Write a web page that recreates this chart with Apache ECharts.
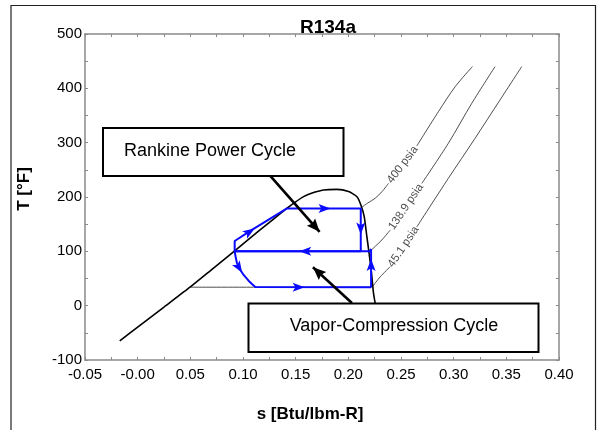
<!DOCTYPE html>
<html><head><meta charset="utf-8">
<script src="https://cdn.jsdelivr.net/npm/echarts@6/dist/echarts.min.js"></script>
<style>html,body{margin:0;padding:0;background:#fff}#c{width:597px;height:430px}</style>
</head><body><div id="c"></div>
<script>
// ---------- data ----------
const xTickLabels = ['-0.05','-0.00','0.05','0.10','0.15','0.20','0.25','0.30','0.35','0.40'];
const yTickLabels = ['-100','0','100','200','300','400','500'];

// saturation dome
const domeS = [-0.017, 0.000, 0.025, 0.050, 0.070, 0.0921, 0.115, 0.1418, 0.150, 0.1575, 0.165, 0.1765, 0.1892, 0.2002, 0.2082, 0.2120, 0.2151, 0.2176, 0.2195, 0.2217, 0.2239, 0.2255];
const domeT = [-65, -39.5, -2.5, 34.4, 66, 101, 137.5, 179.3, 191, 200.6, 207, 213, 214, 210, 200.6, 185, 164, 127, 99.4, 65.7, 22.8, 4.4];

// isobars (null marks the gap where the label sits)
const isobarNames = ['400 psia', '138.9 psia', '45.1 psia'];
const p400S = [0.2118, 0.2185, 0.2255, 0.2320, 0.2381, null, 0.2650, 0.2855, 0.3014, 0.3178];
const p400T = [180, 189, 197.7, 210, 225, null, 294, 357, 403, 440];
const p139S = [0.2205, 0.2260, 0.2319, 0.2397, null, 0.2698, 0.2950, 0.3172, 0.3393];
const p139T = [100, 110, 121, 139, null, 225, 299, 372.5, 440];
const p45S = [0.0500, 0.2216, 0.2260, 0.2302, 0.2397, null, 0.2650, 0.2950, 0.3203, 0.3440, 0.3646];
const p45T = [34, 34, 43, 53, 71.8, null, 145, 234.5, 308, 378.6, 440];

// Rankine power cycle (flow order)
const rankineS = [0.0921, 0.0921, 0.1069, 0.1418, 0.2118, 0.2118, 0.0921];
const rankineT = [100, 119, 137.5, 179, 179, 100, 100];

// vapor-compression cycle (flow order)
const vcS = [0.2216, 0.2216, 0.2201, 0.0921, 0.0930, 0.0943, 0.0958, 0.0975, 0.1006, 0.1053, 0.1085, 0.1117, 0.2216];
const vcT = [34, 104, 100, 100, 90, 78, 71, 65.7, 56.5, 46, 40, 34.5, 34];

// flow-direction arrows on the cycles
const flowArrowS = [0.1063, 0.1774, 0.2118, 0.1591, 0.0962, 0.1528, 0.2216];
const flowArrowT = [136, 179, 142, 100, 70, 34, 75];

// annotation pointers (start -> tip)
const pointerFromS = [0.1259, 0.2034];
const pointerFromT = [239, 5];
const pointerToS = [0.1727, 0.1664];
const pointerToT = [136, 70.7];

const boxTexts = ['Rankine Power Cycle', 'Vapor-Compression Cycle'];

// ---------- helpers ----------
const pairs = (xs, ys) => xs.map((x, i) => x === null ? [null, null] : [x, ys[i]]);
const FONT = "'Liberation Sans', Arial, sans-serif";
const AX = '#8a8a8a';

function axisCommon(pos, showLabel, isX) {
  return {
    type: 'value', position: pos,
    min: isX ? -0.05 : -100, max: isX ? 0.40 : 500, interval: isX ? 0.05 : 100,
    axisLine: { show: true, onZero: false, lineStyle: { color: AX, width: 1.5 } },
    axisTick: { show: true, inside: true, length: 3, lineStyle: { color: AX, width: 1 } },
    minorTick: { show: true, splitNumber: 2, length: 3, lineStyle: { color: AX, width: 1 } },
    splitLine: { show: false }, minorSplitLine: { show: false },
    axisLabel: {
      show: showLabel, color: '#000', fontSize: 15, fontFamily: FONT,
      margin: isX ? 7 : 3, showMinLabel: true, showMaxLabel: true,
      formatter: isX ? (v => xTickLabels[Math.round((v + 0.05) / 0.05)])
                     : (v => yTickLabels[Math.round((v + 100) / 100)])
    }
  };
}

const isoPaths = [pairs(p400S, p400T), pairs(p139S, p139T), pairs(p45S, p45T)];
const rankine = pairs(rankineS, rankineT);
const vc = pairs(vcS, vcT);

const BLUE = '#0a0aff';
const arrowPath = 'path://M5,0 L10,13 L5,10 L0,13 Z';

function baseSeries() {
  const s = [];
  isoPaths.forEach((d, i) => s.push({
    type: 'line', name: isobarNames[i], data: d, showSymbol: false, symbol: 'none',
    connectNulls: false, smooth: 0.3, z: 2,
    lineStyle: { color: '#3a3a3a', width: 0.9 }, silent: true
  }));
  s.push({ type: 'line', data: pairs(domeS, domeT), symbol: 'none', smooth: 0.2,
    lineStyle: { color: '#000', width: 1.6 }, z: 3, silent: true });
  s.push({ type: 'line', data: rankine, symbol: 'none', lineStyle: { color: BLUE, width: 2 }, z: 4, silent: true });
  s.push({ type: 'line', data: vc, symbol: 'none', lineStyle: { color: BLUE, width: 2 }, z: 4, silent: true });
  pointerFromS.forEach((_, i) => s.push({ type: 'line', symbol: 'none', z: 5, silent: true,
    data: [[pointerFromS[i], pointerFromT[i]], [pointerToS[i], pointerToT[i]]],
    lineStyle: { color: '#000', width: 2.6 } }));
  return s;
}

const chart = echarts.init(document.getElementById('c'), null, { renderer: 'canvas' });

const graphic = [
  { type: 'rect', z: 0, shape: { x: 11, y: 5.5, width: 584.5, height: 500 }, style: { fill: 'none', stroke: '#222', lineWidth: 1.2 }, silent: true },
  { type: 'text', z: 100, style: { text: 'R134a', x: 328, y: 27.5, align: 'center', verticalAlign: 'middle', font: "bold 19px " + FONT, fill: '#000' } },
  { type: 'text', z: 100, style: { text: 's [Btu/lbm-R]', x: 310, y: 414.5, align: 'center', verticalAlign: 'middle', font: "bold 17px " + FONT, fill: '#000' } },
  { type: 'text', z: 100, x: 24, y: 189, rotation: Math.PI / 2, style: { text: 'T [°F]', x: 0, y: 0, align: 'center', verticalAlign: 'middle', font: "bold 17px " + FONT, fill: '#000' } },
  { type: 'rect', z: 100, shape: { x: 103, y: 128, width: 240.5, height: 48 }, style: { fill: '#fff', stroke: '#000', lineWidth: 2 } },
  { type: 'text', z: 101, style: { text: boxTexts[0], x: 124, y: 151.5, align: 'left', verticalAlign: 'middle', font: "18px " + FONT, fill: '#000' } },
  { type: 'rect', z: 100, shape: { x: 248.5, y: 303.5, width: 290, height: 48.5 }, style: { fill: '#fff', stroke: '#000', lineWidth: 2 } },
  { type: 'text', z: 101, style: { text: boxTexts[1], x: 394, y: 326, align: 'center', verticalAlign: 'middle', font: "18px " + FONT, fill: '#000' } }
];

const option = {
  animation: false,
  backgroundColor: '#fff',
  grid: { left: 85, right: 38, top: 34, bottom: 70, containLabel: false },
  xAxis: [axisCommon('bottom', true, true), axisCommon('top', false, true)],
  yAxis: [axisCommon('left', true, false), axisCommon('right', false, false)],
  series: baseSeries(),
  graphic: graphic
};
chart.setOption(option);

// ---------- second pass: orient arrowheads and labels in pixel space ----------
const px = p => chart.convertToPixel({ xAxisIndex: 0, yAxisIndex: 0 }, p);
function nearestDir(pt, paths) {
  const P = px(pt); let best = [1, 0], bd = Infinity;
  paths.forEach(path => {
    for (let i = 0; i < path.length - 1; i++) {
      if (path[i][0] === null || path[i + 1][0] === null) continue;
      const a = px(path[i]), b = px(path[i + 1]);
      const dx = b[0] - a[0], dy = b[1] - a[1];
      const L2 = dx * dx + dy * dy; if (L2 === 0) continue;
      let t = ((P[0] - a[0]) * dx + (P[1] - a[1]) * dy) / L2; t = Math.max(0, Math.min(1, t));
      const qx = a[0] + t * dx - P[0], qy = a[1] + t * dy - P[1];
      const d = qx * qx + qy * qy;
      if (d < bd) { bd = d; best = [dx, dy]; }
    }
  });
  return best;
}
const rotOf = d => Math.atan2(-d[1], d[0]) * 180 / Math.PI - 90;

const flowData = flowArrowS.map((s, i) => {
  const d = nearestDir([s, flowArrowT[i]], [rankine, vc]);
  return { value: [s, flowArrowT[i]], symbolRotate: rotOf(d) };
});

const PL = 13;
const pointerData = pointerToS.map((s, i) => {
  const a = px([pointerFromS[i], pointerFromT[i]]), b = px([s, pointerToT[i]]);
  const dx = b[0] - a[0], dy = b[1] - a[1], L = Math.hypot(dx, dy);
  return { value: [s, pointerToT[i]], symbolRotate: rotOf([dx, dy]), symbolOffset: [-dx / L * PL / 2, -dy / L * PL / 2] };
});

const labelData = isoPaths.map((path, i) => {
  const k = path.findIndex(p => p[0] === null);
  const p0 = path[k - 1], p1 = path[k + 1];
  const a = px(p0), b = px(p1);
  const ang = Math.atan2(-(b[1] - a[1]), b[0] - a[0]) * 180 / Math.PI;
  return { value: [(p0[0] + p1[0]) / 2, (p0[1] + p1[1]) / 2], name: isobarNames[i], label: { rotate: ang } };
});

const series = baseSeries();
series.push({ type: 'scatter', data: flowData, symbol: arrowPath, symbolSize: [9, 12], symbolKeepAspect: false,
  itemStyle: { color: BLUE, opacity: 1 }, z: 6, silent: true });
series.push({ type: 'scatter', data: pointerData, symbol: 'path://M5,0 L10,13 L5,11 L0,13 Z', symbolSize: [11, PL],
  itemStyle: { color: '#000', opacity: 1 }, z: 6, silent: true });
series.push({ type: 'scatter', data: labelData, symbolSize: 0, z: 6, silent: true,
  label: { show: true, position: 'inside', formatter: p => p.name, fontSize: 11.5, fontFamily: FONT, color: '#222' } });

chart.setOption({ series: series });
</script>
</body></html>
